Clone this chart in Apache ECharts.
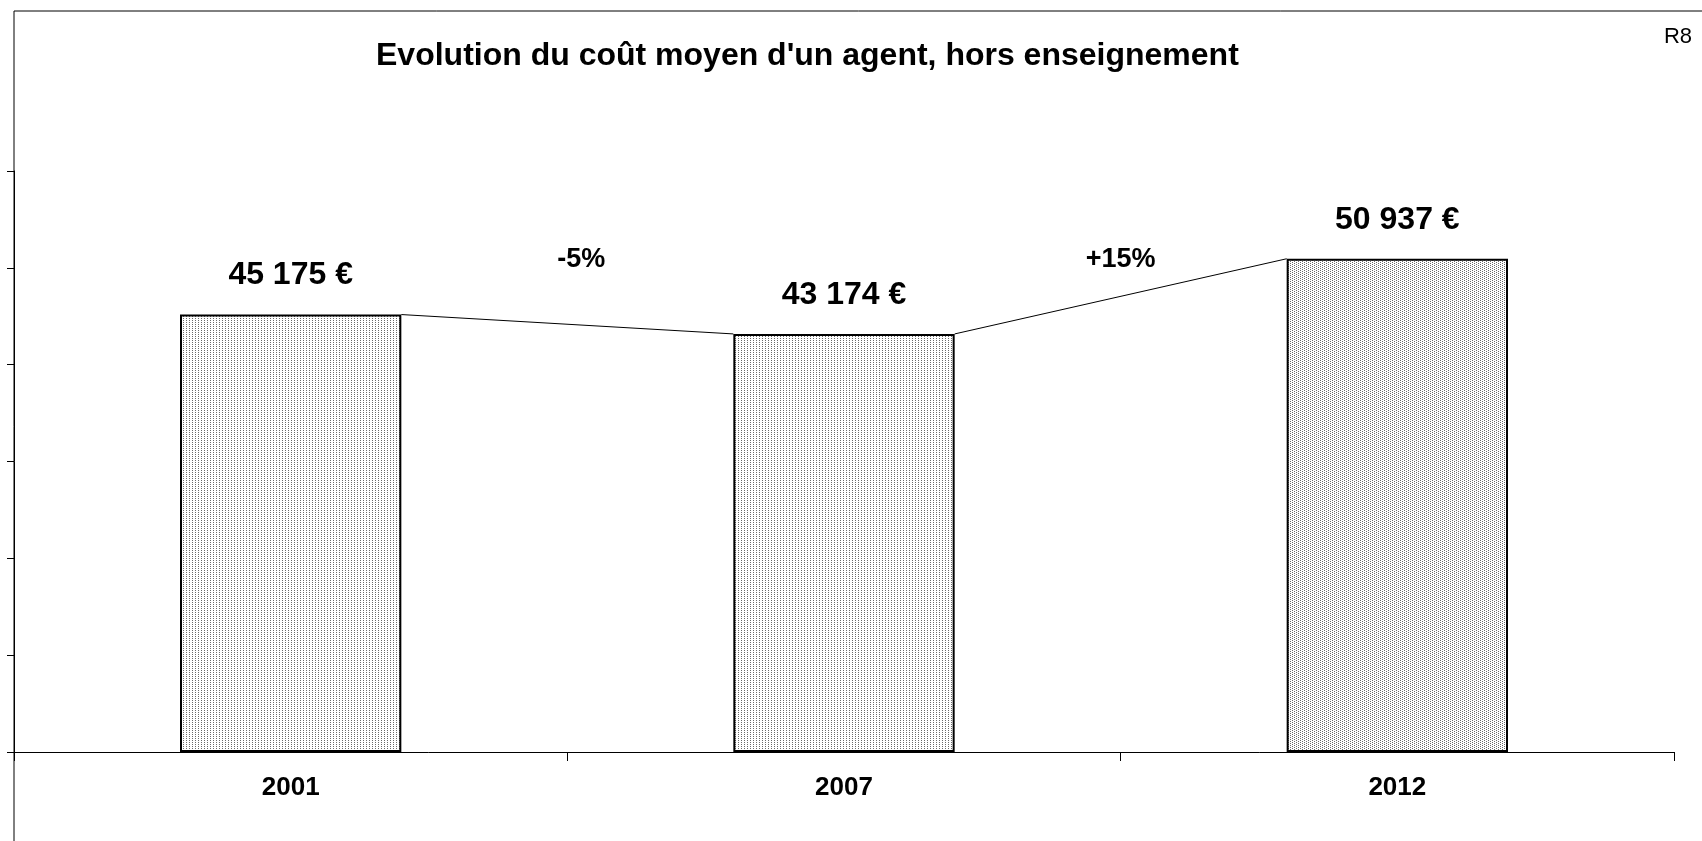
<!DOCTYPE html>
<html lang="fr">
<head>
    <meta charset="UTF-8">
    <script type="text/javascript" src="https://cdn.jsdelivr.net/npm/echarts@6/dist/echarts.min.js"></script>
    <style>
        html, body { margin: 0; padding: 0; background: #fff; }
        #chart { width: 1702px; height: 841px; }
    </style>
</head>
<body>
    <div id="chart"></div>
</body>

<script>
    // données
    var years = ["2001", "2007", "2012"];
    var costValues = [45175, 43174, 50937];
    var costLabels = ["45 175 €", "43 174 €", "50 937 €"];
    var changeLabels = ["-5%", "+15%"];
    var yTicks = [0, 10000, 20000, 30000, 40000, 50000, 60000];

    var FONT = "'Liberation Sans', Arial, sans-serif";

    // motif pointillé des barres
    function makePattern(w, h, dots, color) {
        var c = document.createElement("canvas");
        c.width = w; c.height = h;
        var ctx = c.getContext("2d");
        ctx.fillStyle = "#fff";
        ctx.fillRect(0, 0, w, h);
        ctx.fillStyle = color;
        for (var i = 0; i < dots.length; i++) {
            ctx.fillRect(dots[i][0], dots[i][1], 1, 1);
        }
        return c;
    }
    var lightDots = makePattern(3, 2, [[0, 0]], "#6a6a6a");
    var denseDots = makePattern(4, 2, [[0, 0], [2, 1]], "#6a6a6a");
    var barPatterns = [lightDots, lightDots, denseDots];

    var chart = echarts.init(document.getElementById("chart"));

    var option = {
        animation: false,
        backgroundColor: "#fff",
        title: [{
            text: "Evolution du coût moyen d'un agent, hors enseignement",
            left: 371,
            top: 35,
            textStyle: { fontFamily: FONT, fontSize: 32, fontWeight: "bold", color: "#000" }
        }, {
            text: "R8",
            right: 5,
            top: 21,
            textStyle: { fontFamily: FONT, fontSize: 22, fontWeight: "normal", color: "#000" }
        }],
        graphic: [{
            type: "rect",
            shape: { x: 14, y: 11, width: 3000, height: 3000 },
            style: { fill: "none", stroke: "#000", lineWidth: 1 },
            silent: true,
            z: 0
        }],
        grid: { left: 14, right: 28, top: 171, bottom: 89 },
        xAxis: {
            type: "category",
            data: years,
            axisLine: { lineStyle: { color: "#000", width: 1 } },
            axisTick: { show: true, length: 9, lineStyle: { color: "#000" } },
            axisLabel: { fontFamily: FONT, fontSize: 26, fontWeight: "bold", color: "#000", margin: 23 }
        },
        yAxis: {
            type: "value",
            min: yTicks[0],
            max: yTicks[yTicks.length - 1],
            interval: yTicks[1] - yTicks[0],
            axisLine: { show: true, lineStyle: { color: "#000", width: 1 } },
            axisTick: { show: true, length: 7, lineStyle: { color: "#000" } },
            axisLabel: { show: false },
            splitLine: { show: false }
        },
        series: [{
            type: "bar",
            barWidth: "40%",
            data: costValues.map(function (v, i) {
                return { value: v, itemStyle: { color: { image: barPatterns[i], repeat: "repeat" } } };
            }),
            itemStyle: { borderColor: "#000", borderWidth: 2 },
            label: {
                show: true,
                position: "top",
                distance: 23,
                fontFamily: FONT,
                fontSize: 32,
                fontWeight: "bold",
                color: "#000",
                formatter: function (p) { return costLabels[p.dataIndex]; }
            },
            z: 2
        }, {
            // lignes entre barres + évolution en %
            type: "custom",
            clip: false,
            z: 3,
            data: changeLabels.map(function (t, i) { return [i, costValues[i]]; }),
            renderItem: function (params, api) {
                var i = params.dataIndex;
                var p1 = api.coord([i, costValues[i]]);
                var p2 = api.coord([i + 1, costValues[i + 1]]);
                var half = api.size([1, 0])[0] * 0.4 / 2;
                var labelY = api.coord([0, 50900])[1];
                var dx = i === 0 ? 14 : 0;
                return {
                    type: "group",
                    children: [{
                        type: "line",
                        shape: { x1: p1[0] + half, y1: p1[1], x2: p2[0] - half, y2: p2[1] },
                        style: { stroke: "#000", lineWidth: 1 }
                    }, {
                        type: "text",
                        x: (p1[0] + p2[0]) / 2 + dx,
                        y: labelY,
                        style: {
                            text: changeLabels[i],
                            fontFamily: FONT,
                            fontSize: 27,
                            fontWeight: "bold",
                            fill: "#000",
                            align: "center",
                            verticalAlign: "middle"
                        }
                    }]
                };
            }
        }]
    };

    chart.setOption(option);
</script>
</html>
